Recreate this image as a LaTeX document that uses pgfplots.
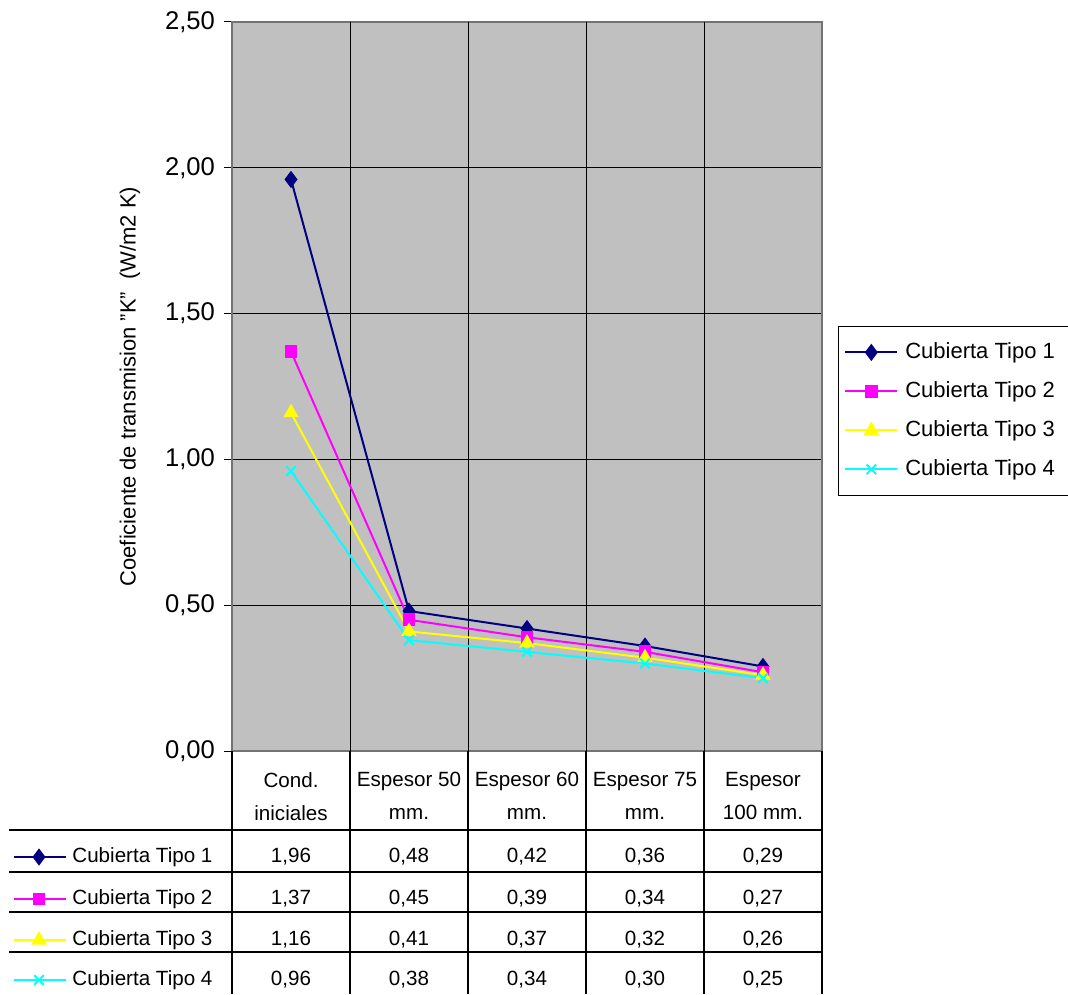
\documentclass[border=0pt]{standalone}
\usepackage{pgfplots}
\usepackage{pgfplotstable}
\pgfplotsset{compat=1.18}
\usepackage{fontspec}
\setmainfont{Liberation Sans}
\definecolor{navy}{RGB}{0,0,128}
\definecolor{bggray}{RGB}{192,192,192}
\definecolor{mag}{RGB}{255,0,255}
\definecolor{yel}{RGB}{255,255,0}
\definecolor{cya}{RGB}{0,255,255}

\pgfplotstableread{
x t1 t2 t3 t4
0 1.96 1.37 1.16 0.96
1 0.48 0.45 0.41 0.38
2 0.42 0.39 0.37 0.34
3 0.36 0.34 0.32 0.30
4 0.29 0.27 0.26 0.25
}\data

\pgfplotsset{
 s1/.style={navy, line width=1pt, mark=diamond*, mark size=3.5pt, mark options={solid, fill=navy, draw=navy}},
 s2/.style={mag, line width=1pt, mark=square*, mark size=2.7pt, mark options={solid, fill=mag, draw=mag}},
 s3/.style={yel, line width=1pt, mark=triangle*, mark size=3.5pt, mark options={solid, fill=yel, draw=yel}},
 s4/.style={cya, line width=1pt, mark=x, mark size=3.4pt, mark options={solid, draw=cya, line width=1pt}},
}

\begin{document}
\begin{tikzpicture}
\path[use as bounding box] (0,0) rectangle (534pt,-497pt);
\begin{axis}[
 at={(116pt,-375.5pt)}, anchor=south west,
 scale only axis, width=295pt, height=364.5pt,
 xmin=-0.5, xmax=4.5, ymin=0, ymax=2.5,
 axis background/.style={fill=bggray},
 axis line style={draw=black!55, line width=0.6pt},
 ytick={0,0.5,...,2.5},
 ymajorgrids, major grid style={black, line width=0.5pt},
 ytick pos=left, tick align=outside,
 major tick length=4pt,
 tick style={black, line width=0.5pt},
 yticklabel style={font=\fontsize{12.8}{14}\selectfont, xshift=-1pt},
 /pgf/number format/.cd, fixed, fixed zerofill, precision=2, use comma, assume math mode=true,
 /pgfplots/.cd,
 xtick={0,1,2,3,4},
 xticklabels={{Cond.\\iniciales},{Espesor 50\\mm.},{Espesor 60\\mm.},{Espesor 75\\mm.},{Espesor\\100 mm.}},
 x tick label style={align=center, anchor=north, yshift=-3pt, font=\fontsize{10.3}{16.5}\selectfont},
 xtick style={draw=none},
 extra x ticks={0.5,1.5,2.5,3.5},
 extra x tick labels={},
 extra x tick style={grid=major, xtick style={draw=none}},
 ylabel={Coeficiente de transmision "K"~ (W/m2 K)},
 ylabel style={at={(axis description cs:-0.173,0.5)}, anchor=center, font=\fontsize{11}{13}\selectfont},
 legend style={at={(axis description cs:1.027,0.583)}, anchor=north west, draw=black, fill=white,
   font=\fontsize{11}{12}\selectfont, row sep=7.5pt, inner xsep=3pt, inner ysep=7pt,
   nodes={inner xsep=3.5pt, inner ysep=1pt, text height=8pt, text depth=2pt}},
 legend cell align=left,
 legend image code/.code={\draw[mark repeat=2, mark phase=2, #1] plot coordinates {(0pt,0pt)(13pt,0pt)(26pt,0pt)};},
]
\addplot[s1] table[x=x,y=t1]{\data};
\addlegendentry{Cubierta Tipo 1}
\addplot[s2] table[x=x,y=t2]{\data};
\addlegendentry{Cubierta Tipo 2}
\addplot[s3] table[x=x,y=t3]{\data};
\addlegendentry{Cubierta Tipo 3}
\addplot[s4] table[x=x,y=t4]{\data};
\addlegendentry{Cubierta Tipo 4}
\end{axis}

% table legend keys
\begin{axis}[
 at={(5pt,-497pt)}, anchor=south west,
 scale only axis, width=111pt, height=82pt,
 xmin=0, xmax=222, ymin=0, ymax=164,
 hide axis, clip=false,
]
\addplot[s1, mark indices={2}] coordinates {(4,137)(29,137)(56,137)};
\addplot[s2, mark indices={2}] coordinates {(4,95)(29,95)(56,95)};
\addplot[s3, mark indices={2}] coordinates {(4,54)(29,54)(56,54)};
\addplot[s4, mark indices={2}] coordinates {(4,14)(29,14)(56,14)};
\end{axis}

\begin{scope}[x=0.5pt, y=-0.5pt]
 \foreach \yy in {830,872,912,952} \draw[black, line width=0.6pt] (9,\yy) -- (822,\yy);
 \foreach \xx in {232,350,468,586,704,822} \draw[black, line width=0.6pt] (\xx,751) -- (\xx,994);
 \foreach \c/\yy/\n in {t1/857/1, t2/899/2, t3/940/3, t4/980/4} {
   \node[anchor=west, inner sep=0pt, font=\fontsize{10.3}{12}\selectfont] at (72,\yy) {Cubierta Tipo \n};
   \foreach \i in {0,...,4} {
     \pgfplotstablegetelem{\i}{\c}\of\data
     \node[inner sep=0pt, font=\fontsize{10.3}{12}\selectfont] at (291+118*\i,\yy)
       {\pgfmathprintnumber[fixed,fixed zerofill,precision=2,use comma,assume math mode=true]{\pgfplotsretval}};
   }
 }
\end{scope}
\end{tikzpicture}
\end{document}
